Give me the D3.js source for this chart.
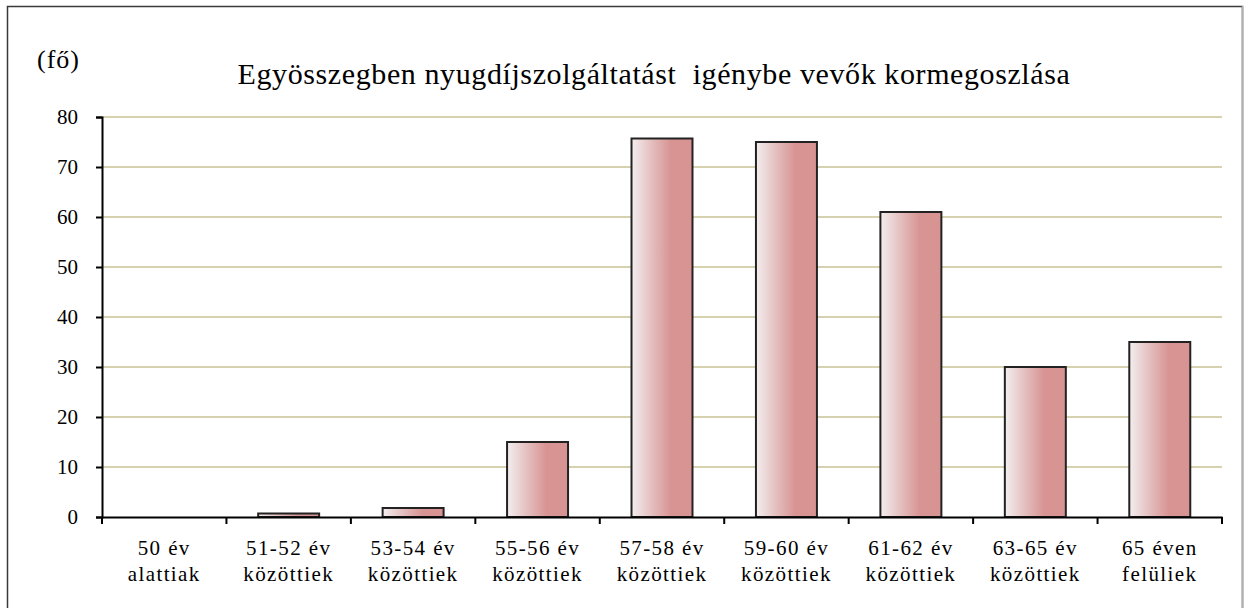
<!DOCTYPE html>
<html>
<head>
<meta charset="utf-8">
<script src="https://cdn.jsdelivr.net/npm/d3@7"></script>
<style>
  body { margin: 0; background: #fff; }
  svg text { font-family: "Times New Roman", Times, Tinos, "Liberation Serif", "Noto Serif", "DejaVu Serif", serif; fill: #000; }
</style>
</head>
<body>
<svg id="chart" width="1245" height="608"></svg>
<script>
// age groups (two label lines each)
var categories = ["50 év|alattiak", "51-52 év|közöttiek", "53-54 év|közöttiek", "55-56 év|közöttiek",
  "57-58 év|közöttiek", "59-60 év|közöttiek", "61-62 év|közöttiek", "63-65 év|közöttiek", "65 éven|felüliek"];
var values = [0, 0.7, 1.8, 15, 75.7, 75, 61, 30, 35];
var yTicks = [0, 10, 20, 30, 40, 50, 60, 70, 80];

var svg = d3.select("#chart");
var plotLeft = 102, plotRight = 1222, plotTop = 117, plotBottom = 517;
var serif = "'Times New Roman', Times, Tinos, 'Liberation Serif', 'Noto Serif', 'DejaVu Serif', serif";

// outer frame
svg.append("rect").attr("x", 7.5).attr("y", 6.5).attr("width", 1235).attr("height", 640)
  .attr("fill", "#fff").attr("stroke", "#3a3a3a").attr("stroke-width", 1.5);
svg.append("line").attr("x1", 1242.5).attr("x2", 1242.5).attr("y1", 6).attr("y2", 608)
  .attr("stroke", "#b0b0b0").attr("stroke-width", 1.5);

var x = d3.scaleBand().domain(categories).range([plotLeft, plotRight]).paddingInner(0.51).paddingOuter(0.255);
var xb = d3.scaleBand().domain(categories).range([plotLeft, plotRight]);
var y = d3.scaleLinear().domain([0, 80]).range([plotBottom, plotTop]);

var defs = svg.append("defs");
var grad = defs.append("linearGradient").attr("id", "barGrad").attr("x1", "0%").attr("x2", "100%");
grad.append("stop").attr("offset", "0%").attr("stop-color", "#f3eeef");
grad.append("stop").attr("offset", "35%").attr("stop-color", "#e3bcbc");
grad.append("stop").attr("offset", "65%").attr("stop-color", "#d89393");
grad.append("stop").attr("offset", "100%").attr("stop-color", "#d89393");

// gridlines
svg.append("g").selectAll("line").data(yTicks.filter(function(d) { return d > 0; })).enter().append("line")
  .attr("x1", plotLeft).attr("x2", plotRight)
  .attr("y1", function(d) { return y(d); }).attr("y2", function(d) { return y(d); })
  .attr("stroke", "#d6d1ae").attr("stroke-width", 2);

// bars
var barData = categories.map(function(c, i) { return {cat: c, v: values[i]}; }).filter(function(d) { return d.v > 0; });
svg.append("g").selectAll("rect").data(barData).enter().append("rect")
  .attr("x", function(d) { return x(d.cat); })
  .attr("y", function(d) { return y(d.v); })
  .attr("width", x.bandwidth())
  .attr("height", function(d) { return plotBottom - y(d.v); })
  .attr("fill", "url(#barGrad)")
  .attr("stroke", "#222").attr("stroke-width", 2);

// y axis
var yAxis = svg.append("g").attr("transform", "translate(" + plotLeft + ",0)")
  .call(d3.axisLeft(y).tickValues(yTicks).tickSize(6).tickPadding(18));
yAxis.attr("font-family", serif);
yAxis.select(".domain").attr("stroke", "#000").attr("stroke-width", 2);
yAxis.selectAll(".tick line").attr("stroke", "#000").attr("stroke-width", 2);
yAxis.selectAll("text").attr("font-size", 21).attr("fill", "#000");

// x axis
var xAxis = svg.append("g").attr("transform", "translate(0," + plotBottom + ")")
  .call(d3.axisBottom(xb).tickSize(0).tickFormat(""));
xAxis.select(".domain").attr("stroke", "#000").attr("stroke-width", 2);
svg.append("g").selectAll("line").data(d3.range(categories.length + 1)).enter().append("line")
  .attr("x1", function(i) { return plotLeft + i * xb.step(); })
  .attr("x2", function(i) { return plotLeft + i * xb.step(); })
  .attr("y1", plotBottom).attr("y2", plotBottom + 7)
  .attr("stroke", "#000").attr("stroke-width", 2);

var lab = svg.append("g").selectAll("text").data(categories).enter().append("text")
  .attr("text-anchor", "middle").attr("font-size", 21).attr("font-family", serif)
  .attr("letter-spacing", 1.4)
  .attr("transform", function(d) { return "translate(" + (xb(d) + xb.bandwidth() / 2) + ",0)"; });
lab.append("tspan").attr("x", 0).attr("y", 555).text(function(d) { return d.split("|")[0]; });
lab.append("tspan").attr("x", 0).attr("y", 581).text(function(d) { return d.split("|")[1]; });

// titles
svg.append("text").attr("x", 37).attr("y", 68).attr("font-size", 26).attr("letter-spacing", 1)
  .attr("font-family", serif).text("(fő)");
svg.append("text").attr("x", 654).attr("y", 84).attr("text-anchor", "middle").attr("font-size", 30)
  .attr("letter-spacing", 0.6).attr("font-family", serif).style("white-space", "pre")
  .text("Egyösszegben nyugdíjszolgáltatást  igénybe vevők kormegoszlása");
</script>
</body>
</html>
